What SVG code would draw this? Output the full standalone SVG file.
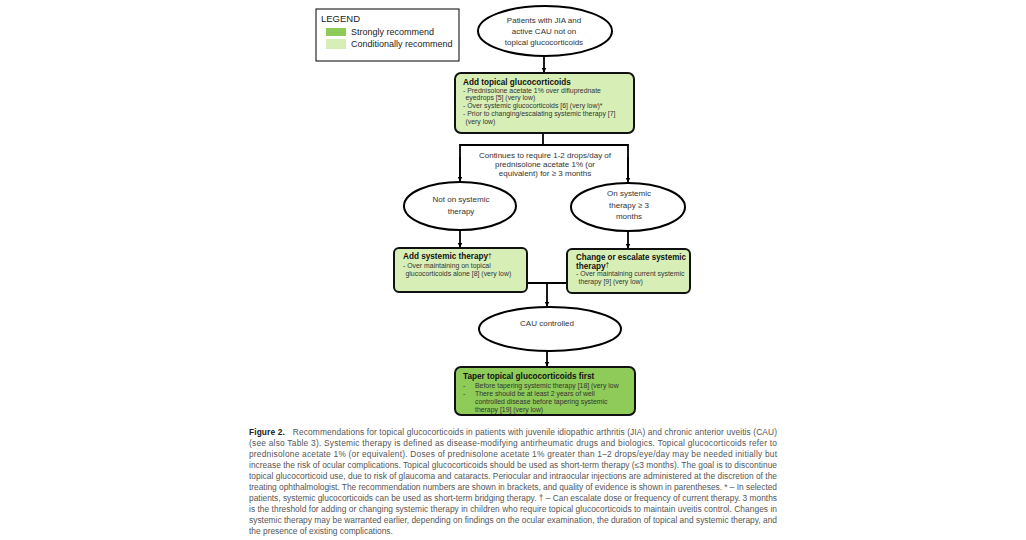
<svg xmlns="http://www.w3.org/2000/svg" width="1026" height="540" viewBox="0 0 1026 540">
<defs>
<style>
.t{font-family:"Liberation Sans",Arial,sans-serif;fill:#222}
.et{font-family:"Liberation Sans",Arial,sans-serif;font-size:8px;fill:#333}
.ttl{font-family:"Liberation Sans",Arial,sans-serif;font-weight:bold;font-size:8.2px;fill:#111}
.b{font-family:"Liberation Sans",Arial,sans-serif;font-size:6.9px;fill:#333}
.sup{font-size:6.5px;font-weight:normal}
.el{fill:#fff;stroke:#000;stroke-width:2}
.bx{stroke:#111;stroke-width:2}
.lt{fill:#d7efb7}
.dk{fill:#8fcb58}
.ln{fill:none;stroke:#000;stroke-width:1.8}
.cap{font-family:"Liberation Sans",Arial,sans-serif;font-size:8.4px;fill:#555}
</style>
<marker id="ar" viewBox="0 0 10 10" refX="9" refY="5" markerWidth="5" markerHeight="5" orient="auto" markerUnits="userSpaceOnUse"><path d="M0,0L10,5L0,10z" fill="#000"/></marker>
</defs>
<rect width="1026" height="540" fill="#fff"/>

<g id="legend">
<rect x="316" y="9" width="143" height="52" fill="#fff" stroke="#000" stroke-width="1"/>
<text class="t" x="321" y="22" font-size="9.5">LEGEND</text>
<rect class="dk" x="326" y="28" width="20" height="8"/>
<rect class="lt" x="326" y="39" width="20" height="10"/>
<text class="t" x="351" y="35" font-size="9" fill="#333">Strongly recommend</text>
<text class="t" x="351" y="47" font-size="9" fill="#333">Conditionally recommend</text>
</g>

<g id="connectors">
<line class="ln" x1="544" y1="56" x2="544" y2="72" marker-end="url(#ar)"/>
<polyline class="ln" points="543,133 543,145"/>
<polyline class="ln" points="460,180 460,145 628,145 628,180"/>
<line class="ln" x1="460" y1="157" x2="460" y2="181" marker-end="url(#ar)"/>
<line class="ln" x1="628" y1="157" x2="628" y2="182" marker-end="url(#ar)"/>
<line class="ln" x1="460" y1="230" x2="460" y2="247" marker-end="url(#ar)"/>
<line class="ln" x1="628" y1="231" x2="628" y2="248" marker-end="url(#ar)"/>
<line class="ln" x1="527" y1="283" x2="567" y2="283"/>
<line class="ln" x1="547" y1="283" x2="547" y2="306" marker-end="url(#ar)"/>
<line class="ln" x1="547" y1="351" x2="547" y2="366" marker-end="url(#ar)"/>
</g>

<g id="start">
<ellipse class="el" cx="545" cy="31" rx="67" ry="25"/>
<text class="et" text-anchor="middle"><tspan x="544" y="22.5">Patients  with JIA and</tspan><tspan x="544" y="34">active CAU not on</tspan><tspan x="544" y="45">topical glucocorticoids</tspan></text>
</g>

<g id="add-topical">
<rect class="bx lt" x="455" y="73" width="179" height="60" rx="6"/>
<text class="ttl" x="463" y="85">Add topical glucocorticoids</text>
<text class="b"><tspan x="463" y="92.5">- Prednisolone  acetate 1% over difluprednate</tspan><tspan x="465.5" y="100">eyedrops [5] (very low)</tspan><tspan x="463" y="108">- Over systemic glucocorticoids [6] (very low)*</tspan><tspan x="463" y="116">- Prior to changing/escalating systemic therapy [7]</tspan><tspan x="465.5" y="123.5">(very low)</tspan></text>
</g>

<g id="condition-label">
<text class="et" text-anchor="middle"><tspan x="545" y="158">Continues to require 1-2 drops/day of</tspan><tspan x="545" y="167">prednisolone acetate 1% (or</tspan><tspan x="545" y="176">equivalent) for ≥ 3 months</tspan></text>
</g>

<g id="not-systemic">
<ellipse class="el" cx="460" cy="206" rx="56" ry="24"/>
<text class="et" text-anchor="middle"><tspan x="461" y="202">Not on systemic</tspan><tspan x="461" y="214">therapy</tspan></text>
</g>

<g id="on-systemic">
<ellipse class="el" cx="628" cy="207" rx="57" ry="24"/>
<text class="et" text-anchor="middle"><tspan x="629" y="196">On systemic</tspan><tspan x="629" y="208">therapy ≥ 3</tspan><tspan x="629" y="219">months</tspan></text>
</g>

<g id="add-systemic">
<rect class="bx lt" x="394" y="248" width="133" height="44" rx="5"/>
<text class="ttl" x="403" y="259">Add systemic therapy<tspan class="sup" dy="-1.5">†</tspan></text>
<text class="b"><tspan x="403" y="268">- Over maintaining on topical</tspan><tspan x="405.5" y="276">glucocorticoids alone [8] (very low)</tspan></text>
</g>

<g id="change-systemic">
<rect class="bx lt" x="567" y="249" width="123" height="44" rx="5"/>
<text class="ttl" x="576" y="260" textLength="110" lengthAdjust="spacingAndGlyphs">Change or escalate systemic</text>
<text class="ttl" x="576" y="268.5">therapy<tspan class="sup" dy="-1.5">†</tspan></text>
<text class="b"><tspan x="576" y="276">- Over maintaining current systemic</tspan><tspan x="578.5" y="283.5">therapy [9] (very low)</tspan></text>
</g>

<g id="cau-controlled">
<ellipse class="el" cx="550" cy="329" rx="71" ry="22"/>
<text class="et" text-anchor="middle" x="547" y="326">CAU controlled</text>
</g>

<g id="taper">
<rect class="bx dk" x="455" y="367" width="180" height="48" rx="6"/>
<text class="ttl" x="463" y="379">Taper topical glucocorticoids first</text>
<text class="b"><tspan x="463" y="387.5">-</tspan><tspan x="475" y="387.5">Before tapering systemic therapy [18] (very low</tspan><tspan x="463" y="395.5">-</tspan><tspan x="475" y="395.5">There should be at least 2 years of well</tspan><tspan x="475" y="403.5">controlled disease before tapering systemic</tspan><tspan x="475" y="411.5">therapy [19] (very low)</tspan></text>
</g>

<g id="caption">
<text class="cap" x="249" y="435" textLength="528" lengthAdjust="spacing"><tspan font-weight="bold" fill="#222">Figure 2.</tspan><tspan dx="8">Recommendations for topical glucocorticoids in patients with juvenile idiopathic arthritis (JIA) and chronic anterior uveitis (CAU)</tspan></text>
<text class="cap" x="249" y="446" textLength="528" lengthAdjust="spacing">(see also Table 3). Systemic therapy is defined as disease-modifying antirheumatic drugs and biologics. Topical glucocorticoids refer to</text>
<text class="cap" x="249" y="457" textLength="528" lengthAdjust="spacing">prednisolone acetate 1% (or equivalent). Doses of prednisolone acetate 1% greater than 1–2 drops/eye/day may be needed initially but</text>
<text class="cap" x="249" y="468" textLength="528" lengthAdjust="spacing">increase the risk of ocular complications. Topical glucocorticoids should be used as short-term therapy (≤3 months). The goal is to discontinue</text>
<text class="cap" x="249" y="479" textLength="528" lengthAdjust="spacing">topical glucocorticoid use, due to risk of glaucoma and cataracts. Periocular and intraocular injections are administered at the discretion of the</text>
<text class="cap" x="249" y="490" textLength="528" lengthAdjust="spacing">treating ophthalmologist. The recommendation numbers are shown in brackets, and quality of evidence is shown in parentheses. * – In selected</text>
<text class="cap" x="249" y="501" textLength="528" lengthAdjust="spacing">patients, systemic glucocorticoids can be used as short-term bridging therapy. † – Can escalate dose or frequency of current therapy. 3 months</text>
<text class="cap" x="249" y="512" textLength="528" lengthAdjust="spacing">is the threshold for adding or changing systemic therapy in children who require topical glucocorticoids to maintain uveitis control. Changes in</text>
<text class="cap" x="249" y="523" textLength="528" lengthAdjust="spacing">systemic therapy may be warranted earlier, depending on findings on the ocular examination, the duration of topical and systemic therapy, and</text>
<text class="cap" x="249" y="534">the presence of existing complications.</text>
</g>
</svg>
